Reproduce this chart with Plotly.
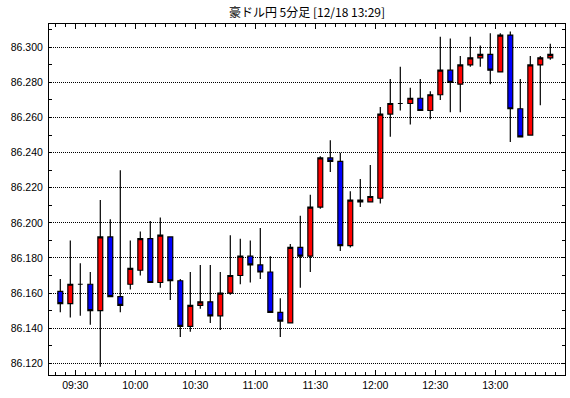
import plotly.graph_objects as go

title_text = "豪ドル円 5分足 [12/18 13:29]"

times = ["09:20", "09:25", "09:30", "09:35", "09:40", "09:45", "09:50", "09:55",
         "10:00", "10:05", "10:10", "10:15", "10:20", "10:25", "10:30", "10:35",
         "10:40", "10:45", "10:50", "10:55", "11:00", "11:05", "11:10", "11:15",
         "11:20", "11:25", "11:30", "11:35", "11:40", "11:45", "11:50", "11:55",
         "12:00", "12:05", "12:10", "12:15", "12:20", "12:25", "12:30", "12:35",
         "12:40", "12:45", "12:50", "12:55", "13:00", "13:05", "13:10", "13:15",
         "13:20", "13:25"]

opens = [86.161, 86.154, 86.165, 86.165, 86.150, 86.192, 86.158, 86.165,
         86.173, 86.191, 86.166, 86.192, 86.167, 86.141, 86.153, 86.155,
         86.147, 86.160, 86.170, 86.181, 86.176, 86.172, 86.149, 86.143,
         86.186, 86.181, 86.209, 86.237, 86.235, 86.187, 86.213, 86.212,
         86.214, 86.262, 86.268, 86.268, 86.271, 86.264, 86.273, 86.287,
         86.279, 86.290, 86.294, 86.296, 86.286, 86.307, 86.265, 86.250,
         86.290, 86.294]

highs = [86.168, 86.190, 86.177, 86.172, 86.213, 86.202, 86.230, 86.190,
         86.195, 86.201, 86.203, 86.192, 86.168, 86.172, 86.176, 86.176,
         86.172, 86.193, 86.191, 86.190, 86.197, 86.181, 86.157, 86.188,
         86.204, 86.216, 86.238, 86.247, 86.240, 86.218, 86.225, 86.233,
         86.266, 86.282, 86.289, 86.277, 86.282, 86.275, 86.306, 86.305,
         86.295, 86.306, 86.301, 86.308, 86.308, 86.309, 86.282, 86.295,
         86.295, 86.302]

lows = [86.149, 86.146, 86.147, 86.142, 86.118, 86.158, 86.149, 86.162,
        86.170, 86.166, 86.163, 86.156, 86.135, 86.138, 86.151, 86.143,
        86.139, 86.159, 86.165, 86.166, 86.168, 86.149, 86.135, 86.143,
        86.163, 86.172, 86.208, 86.229, 86.184, 86.186, 86.209, 86.212,
        86.211, 86.249, 86.264, 86.256, 86.264, 86.259, 86.270, 86.263,
        86.263, 86.289, 86.289, 86.279, 86.286, 86.246, 86.249, 86.250,
        86.267, 86.293]

closes = [86.154, 86.165, 86.165, 86.150, 86.192, 86.158, 86.153, 86.174,
          86.191, 86.166, 86.193, 86.167, 86.141, 86.153, 86.155, 86.147,
          86.160, 86.170, 86.181, 86.176, 86.172, 86.149, 86.144, 86.186,
          86.181, 86.209, 86.237, 86.235, 86.187, 86.213, 86.212, 86.215,
          86.262, 86.268, 86.268, 86.271, 86.264, 86.273, 86.287, 86.280,
          86.290, 86.294, 86.296, 86.287, 86.307, 86.265, 86.249, 86.290,
          86.294, 86.296]

x_tick_labels = ["09:30", "10:00", "10:30", "11:00", "11:30", "12:00", "12:30", "13:00"]
y_tick_values = [86.120, 86.140, 86.160, 86.180, 86.200, 86.220, 86.240, 86.260, 86.280, 86.300]


def to_min(t):
    h, m = t.split(":")
    return int(h) * 60 + int(m) - (9 * 60 + 30)


# candles are centred in their 5-minute period
x_pos = [to_min(t) + 2.5 for t in times]
x_tickvals = [to_min(t) for t in x_tick_labels]

fig = go.Figure(go.Candlestick(
    x=x_pos, open=opens, high=highs, low=lows, close=closes,
    increasing=dict(fillcolor="#FF0000", line=dict(color="#000000", width=1.2)),
    decreasing=dict(fillcolor="#0000FF", line=dict(color="#000000", width=1.2)),
    whiskerwidth=0,
    showlegend=False,
    hoverinfo="skip",
))

fig.update_layout(
    width=570, height=398,
    margin=dict(l=49, r=5, t=24, b=23),
    plot_bgcolor="white", paper_bgcolor="white",
    font=dict(family="Liberation Sans", size=10.5, color="#000000"),
    title=dict(text=title_text, x=0.5, xref="paper", xanchor="center",
               y=1 - 13 / 398, yref="container", yanchor="middle",
               font=dict(family="Noto Sans CJK JP", size=12, color="#000000")),
    showlegend=False,
    boxgap=0.3,
)

fig.update_xaxes(
    range=[-13.15, 244.85],
    tickmode="array", tickvals=x_tickvals, ticktext=x_tick_labels,
    ticks="inside", ticklen=5, tickwidth=1, tickcolor="#000000",
    minor=dict(ticks="inside", ticklen=3, tickwidth=1, tickcolor="#000000",
               tickmode="linear", tick0=0, dtick=5, showgrid=False),
    showline=True, linecolor="#000000", linewidth=1, mirror="ticks",
    showgrid=False, zeroline=False,
    rangeslider=dict(visible=False),
    fixedrange=True,
)

fig.update_yaxes(
    range=[86.1133, 86.3133],
    tickmode="array", tickvals=y_tick_values,
    ticktext=[f"{v:.3f}" for v in y_tick_values],
    ticks="inside", ticklen=3, tickwidth=1, tickcolor="#000000",
    ticklabelstandoff=3,
    minor=dict(ticks="inside", ticklen=3, tickwidth=1, tickcolor="#000000",
               tickmode="linear", tick0=86.11, dtick=0.01, showgrid=False),
    showline=True, linecolor="#000000", linewidth=1, mirror="ticks",
    showgrid=True, gridcolor="#000000", gridwidth=1, griddash="1px,1px",
    zeroline=False,
    fixedrange=True,
)

fig.write_html("out.html",
               config={"displayModeBar": False},
               post_script="document.body.style.margin='0';document.body.style.overflow='hidden';")
